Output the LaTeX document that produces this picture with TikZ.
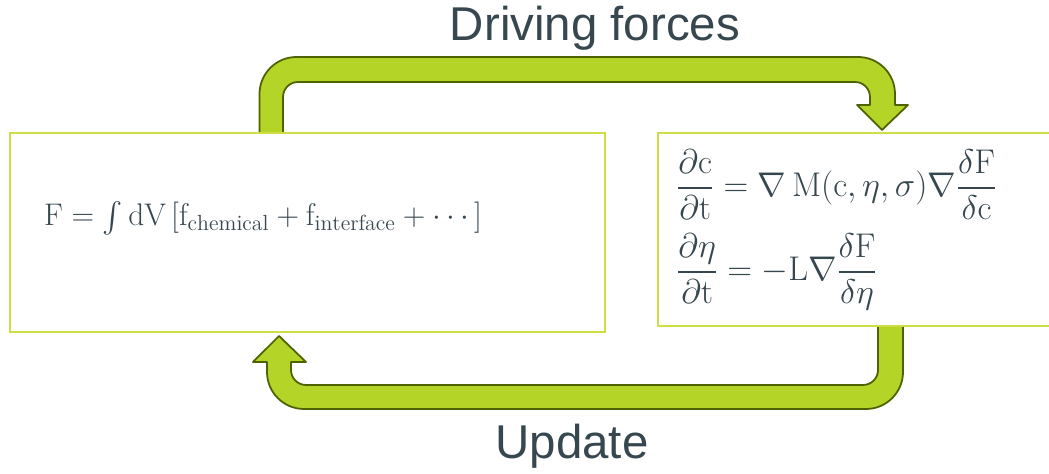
\RequirePackage{fix-cm}
\documentclass[tikz,border=0pt]{standalone}
\usepackage{amsmath}
\usepackage{fontspec}
\setsansfont{Liberation Sans}
\usepackage{tikz}

\definecolor{slate}{RGB}{55,71,79}
\definecolor{limeline}{RGB}{208,222,70}
\definecolor{limefill}{RGB}{180,212,40}
\definecolor{olivedark}{RGB}{79,98,0}

\begin{document}
\begin{tikzpicture}[
        box/.style={draw=limeline, line width=1.1pt, fill=white, inner sep=0pt},
        loop/.style={draw=olivedark, line width=1pt, fill=limefill, line join=round},
        caption/.style={font=\sffamily\fontsize{27}{32}\selectfont, text=slate},
        eq/.style={font=\fontsize{19.5}{23}\selectfont, text=slate, inner sep=0pt}
    ]
        \useasboundingbox (0,0) rectangle (20.98,9.48);
        \clip (0,0) rectangle (20.98,9.48);

        % Panah atas: dari kotak energi ke kotak kinetika
        \draw[loop] (5.19,6.82) -- (5.19,7.60) arc (180:90:0.74) -- (17.16,8.34)
            arc (90:0:0.74) -- (17.90,7.38) -- (18.16,7.38) -- (17.64,6.88)
            -- (17.14,7.38) -- (17.40,7.38) -- (17.40,7.54) arc (0:90:0.3)
            -- (5.96,7.84) arc (90:180:0.3) -- (5.66,6.82) -- cycle;

        % Panah bawah: kembali ke kotak energi
        \draw[loop] (17.56,2.96) -- (17.56,2.08) arc (0:-90:0.3) -- (6.12,1.78)
            arc (270:180:0.3) -- (5.82,2.24) -- (6.12,2.24) -- (5.58,2.76)
            -- (5.06,2.24) -- (5.34,2.24) -- (5.34,2.04) arc (180:270:0.74)
            -- (17.32,1.30) arc (270:360:0.74) -- (18.06,2.96) -- cycle;

        % Kotak
        \node[box, minimum width=11.9cm, minimum height=3.98cm] (energy) at (6.15,4.83) {};
        \node[box, minimum width=8.24cm, minimum height=3.86cm] (kinetics) at (17.28,4.89) {};

        % Persamaan
        \node[eq, font=\fontsize{17.8}{22}\selectfont] (freeenergy) at (5.26,5.12)
            {$\mathrm{F} = \textstyle\int \mathrm{dV}\,[\mathrm{f}_{\mathrm{chemical}} + \mathrm{f}_{\mathrm{interface}} + \cdots]$};
        \node[eq, anchor=west, align=left] (evolution) at (13.52,4.88)
            {$\displaystyle\frac{\partial \mathrm{c}}{\partial \mathrm{t}} = \nabla\,\mathrm{M}(\mathrm{c},\eta,\sigma)\nabla\frac{\delta\mathrm{F}}{\delta\mathrm{c}}$\\[6.5pt]
             $\displaystyle\frac{\partial \eta}{\partial \mathrm{t}} = -\mathrm{L}\nabla\frac{\delta\mathrm{F}}{\delta\eta}$};

        % Label
        \node[caption] (drive) at (11.9,8.92) {Driving forces};
        \node[caption] (update) at (11.44,0.56) {Update};

    \end{tikzpicture}
\end{document}
